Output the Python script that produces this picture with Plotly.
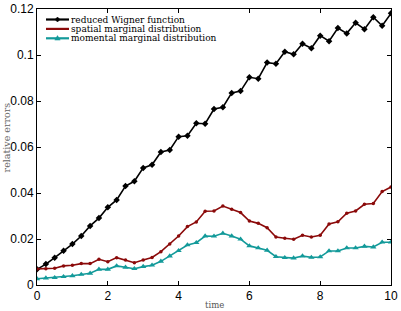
import plotly.graph_objects as go

time = [i * 0.25 for i in range(41)]

wigner = [0.0068, 0.0091, 0.0119, 0.0149, 0.0178, 0.0213, 0.0257, 0.0291, 0.0338, 0.0370,
          0.0430, 0.0451, 0.0509, 0.0523, 0.0578, 0.0587, 0.0645, 0.0649, 0.0703, 0.0701,
          0.0765, 0.0773, 0.0835, 0.0843, 0.0903, 0.0897, 0.0967, 0.0962, 0.1014, 0.1003,
          0.1049, 0.1029, 0.1084, 0.1060, 0.1117, 0.1094, 0.1140, 0.1112, 0.1164, 0.1127, 0.1181]

spatial = [0.0070, 0.0071, 0.0073, 0.0083, 0.0086, 0.0093, 0.0093, 0.0112, 0.0101, 0.0119,
           0.0109, 0.0097, 0.0109, 0.0120, 0.0145, 0.0178, 0.0213, 0.0254, 0.0274, 0.0321,
           0.0322, 0.0343, 0.0329, 0.0315, 0.0278, 0.0268, 0.0249, 0.0209, 0.0203, 0.0199,
           0.0216, 0.0209, 0.0216, 0.0265, 0.0275, 0.0312, 0.0322, 0.0351, 0.0354, 0.0406, 0.0426]

momental = [0.0027, 0.0030, 0.0032, 0.0036, 0.0040, 0.0046, 0.0051, 0.0068, 0.0068, 0.0083,
            0.0077, 0.0071, 0.0080, 0.0086, 0.0103, 0.0126, 0.0149, 0.0174, 0.0184, 0.0213,
            0.0212, 0.0225, 0.0213, 0.0199, 0.0170, 0.0161, 0.0151, 0.0123, 0.0119, 0.0117,
            0.0126, 0.0120, 0.0122, 0.0148, 0.0148, 0.0161, 0.0161, 0.0168, 0.0165, 0.0186, 0.0186]

x_ticks = [0, 2, 4, 6, 8, 10]
y_ticks = [0, 0.02, 0.04, 0.06, 0.08, 0.1, 0.12]

names = ["reduced Wigner function", "spatial marginal distribution", "momental marginal distribution"]
colors = ["#000000", "#8b0a0a", "#139a9a"]
symbols = ["diamond", "circle", "triangle-up"]
sizes = [5, 3.5, 5.5]

# legend key paths (pixel units, relative to key centre)
key_paths = ["M-2.5,0 L0,2.5 L2.5,0 L0,-2.5 Z",
             "M-1.7,0 A1.7,1.7 0 1,1 1.7,0 A1.7,1.7 0 1,1 -1.7,0 Z",
             "M-2.7,-1.8 L2.7,-1.8 L0,2.7 Z"]

W, H = 401, 311
ML, MR, MT, MB = 37, 10, 9, 26
PW, PH = W - ML - MR, H - MT - MB

SERIF = "DejaVu Serif"

fig = go.Figure()
for name, ys, c, s, sz in zip(names, [wigner, spatial, momental], colors, symbols, sizes):
    fig.add_trace(go.Scatter(x=time, y=ys, mode="lines+markers", name=name,
                             showlegend=False,
                             line=dict(color=c, width=1.6),
                             marker=dict(symbol=s, size=sz, color=c)))

# compact legend (matches the reference's tight spacing)
leg_top_px = 10.5
leg_step_px = 9.4
for i, (name, c, p) in enumerate(zip(names, colors, key_paths)):
    yp = 1 - (leg_top_px + i * leg_step_px) / PH
    fig.add_shape(type="line", xref="paper", yref="paper", xsizemode="pixel", ysizemode="pixel",
                  xanchor=0, yanchor=yp, x0=9, x1=32, y0=0, y1=0,
                  line=dict(color=c, width=2.2))
    fig.add_shape(type="path", xref="paper", yref="paper", xsizemode="pixel", ysizemode="pixel",
                  xanchor=0 + 20.5 / PW, yanchor=yp, path=p,
                  fillcolor=c, line=dict(color=c, width=0.5))
    fig.add_annotation(text=name, xref="paper", yref="paper", x=0, xshift=33, y=yp,
                       xanchor="left", yanchor="middle", showarrow=False, borderpad=0,
                       font=dict(family=SERIF, size=9, color="black"))

axis_common = dict(showgrid=False, zeroline=False, showline=True, linecolor="black",
                   linewidth=1, mirror="ticks", ticks="inside", ticklen=4, automargin=False,
                   tickcolor="black",
                   tickfont=dict(family="Liberation Sans, Arial", size=12, color="black"))

fig.update_xaxes(range=[0, 10], tickvals=x_ticks, **axis_common)
fig.update_yaxes(range=[0, 0.12], tickvals=y_ticks, **axis_common)

fig.add_annotation(text="time", xref="paper", yref="paper", x=0.5, y=0, yshift=-20,
                   showarrow=False, yanchor="middle",
                   font=dict(family=SERIF, size=8.5, color="#555555"))
fig.add_annotation(text="relative errors", xref="paper", yref="paper", x=0, xshift=-38,
                   y=0.533, textangle=-90, showarrow=False,
                   font=dict(family=SERIF, size=9.5, color="#666666"))

fig.update_layout(
    width=W, height=H,
    margin=dict(l=ML, r=MR, t=MT, b=MB),
    paper_bgcolor="white", plot_bgcolor="white",
    showlegend=False,
)

fig.write_html("out.html", config={"displayModeBar": False},
               post_script="document.body.style.margin='0';document.body.style.padding='0';")
